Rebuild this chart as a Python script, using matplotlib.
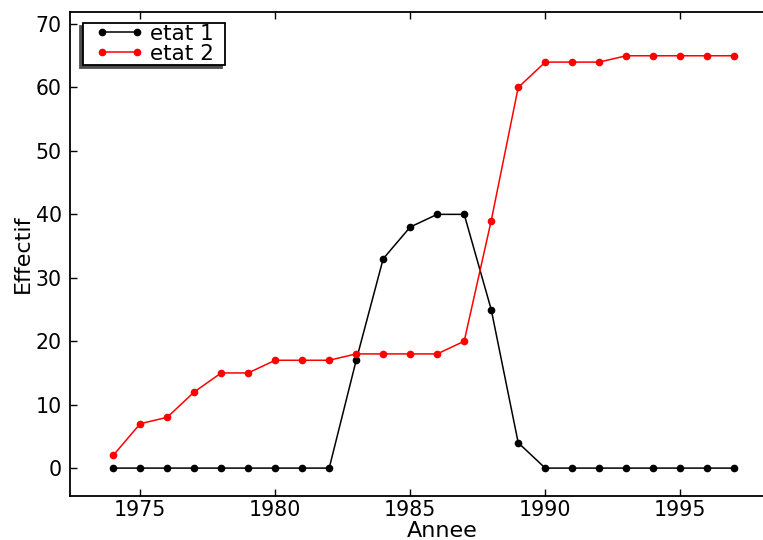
import numpy as np
import matplotlib
matplotlib.use("Agg")
import matplotlib.pyplot as plt
from matplotlib.lines import Line2D
from matplotlib.legend_handler import HandlerLine2D

annees = list(range(1974, 1998))
etat1 = [0, 0, 0, 0, 0, 0, 0, 0, 0, 17, 33, 38, 40, 40, 25, 4,
         0, 0, 0, 0, 0, 0, 0, 0]
etat2 = [2, 7, 8, 12, 15, 15, 17, 17, 17, 18, 18, 18, 18, 20, 39, 60,
         64, 64, 64, 65, 65, 65, 65, 65]
xticks = [1975, 1980, 1985, 1990, 1995]
yticks = [0, 10, 20, 30, 40, 50, 60, 70]

W, H = 763, 540
fig = plt.figure(figsize=(W / 100, H / 100), dpi=100)
# axes runs past the right edge like the reference (cropped figure)
ax = fig.add_axes([70 / W, 1 - 496 / H, 745 / W, 484 / H])

ax.plot(annees, etat1, 'k-', marker='o', markersize=4.5, linewidth=1.1, label='etat 1')
ax.plot(annees, etat2, 'r-', marker='o', markersize=4.5, linewidth=1.1, label='etat 2')

ax.set_xlim(1972.4, 1972.4 + 745 / 27)
ax.set_ylim(-4.4, 71.9)
ax.set_xticks(xticks)
ax.set_yticks(yticks)
ax.tick_params(direction='in', length=5, width=1, labelsize=14.8,
               top=True, right=False, pad=6)
ax.tick_params(axis='x', pad=3)
ax.spines['right'].set_visible(False)
for s in ax.spines.values():
    s.set_linewidth(1.3)

ax.set_xlabel('Annee', fontsize=16, labelpad=0.5)
ax.set_ylabel('Effectif', fontsize=16, labelpad=2)

# legend box pinned to its pixel place, shadow to the lower left
bh = 0.05
leg = ax.legend(loc='upper left', numpoints=2, fontsize=15.5, fancybox=False,
                bbox_to_anchor=(83 / W, 1 - 22.7 / H - bh, 142 / W, bh),
                bbox_transform=fig.transFigure, mode='expand',
                shadow={'ox': -2.2, 'oy': -2.2, 'color': '0.3', 'alpha': 1},
                framealpha=1, borderaxespad=0, handlelength=3.27,
                labelspacing=0.0, borderpad=0.06, handletextpad=-0.2,
                handler_map={Line2D: HandlerLine2D(marker_pad=0.8)})
leg.get_frame().set_edgecolor('black')
leg.get_frame().set_linewidth(1.3)

fig.savefig('out.png', dpi=100)
